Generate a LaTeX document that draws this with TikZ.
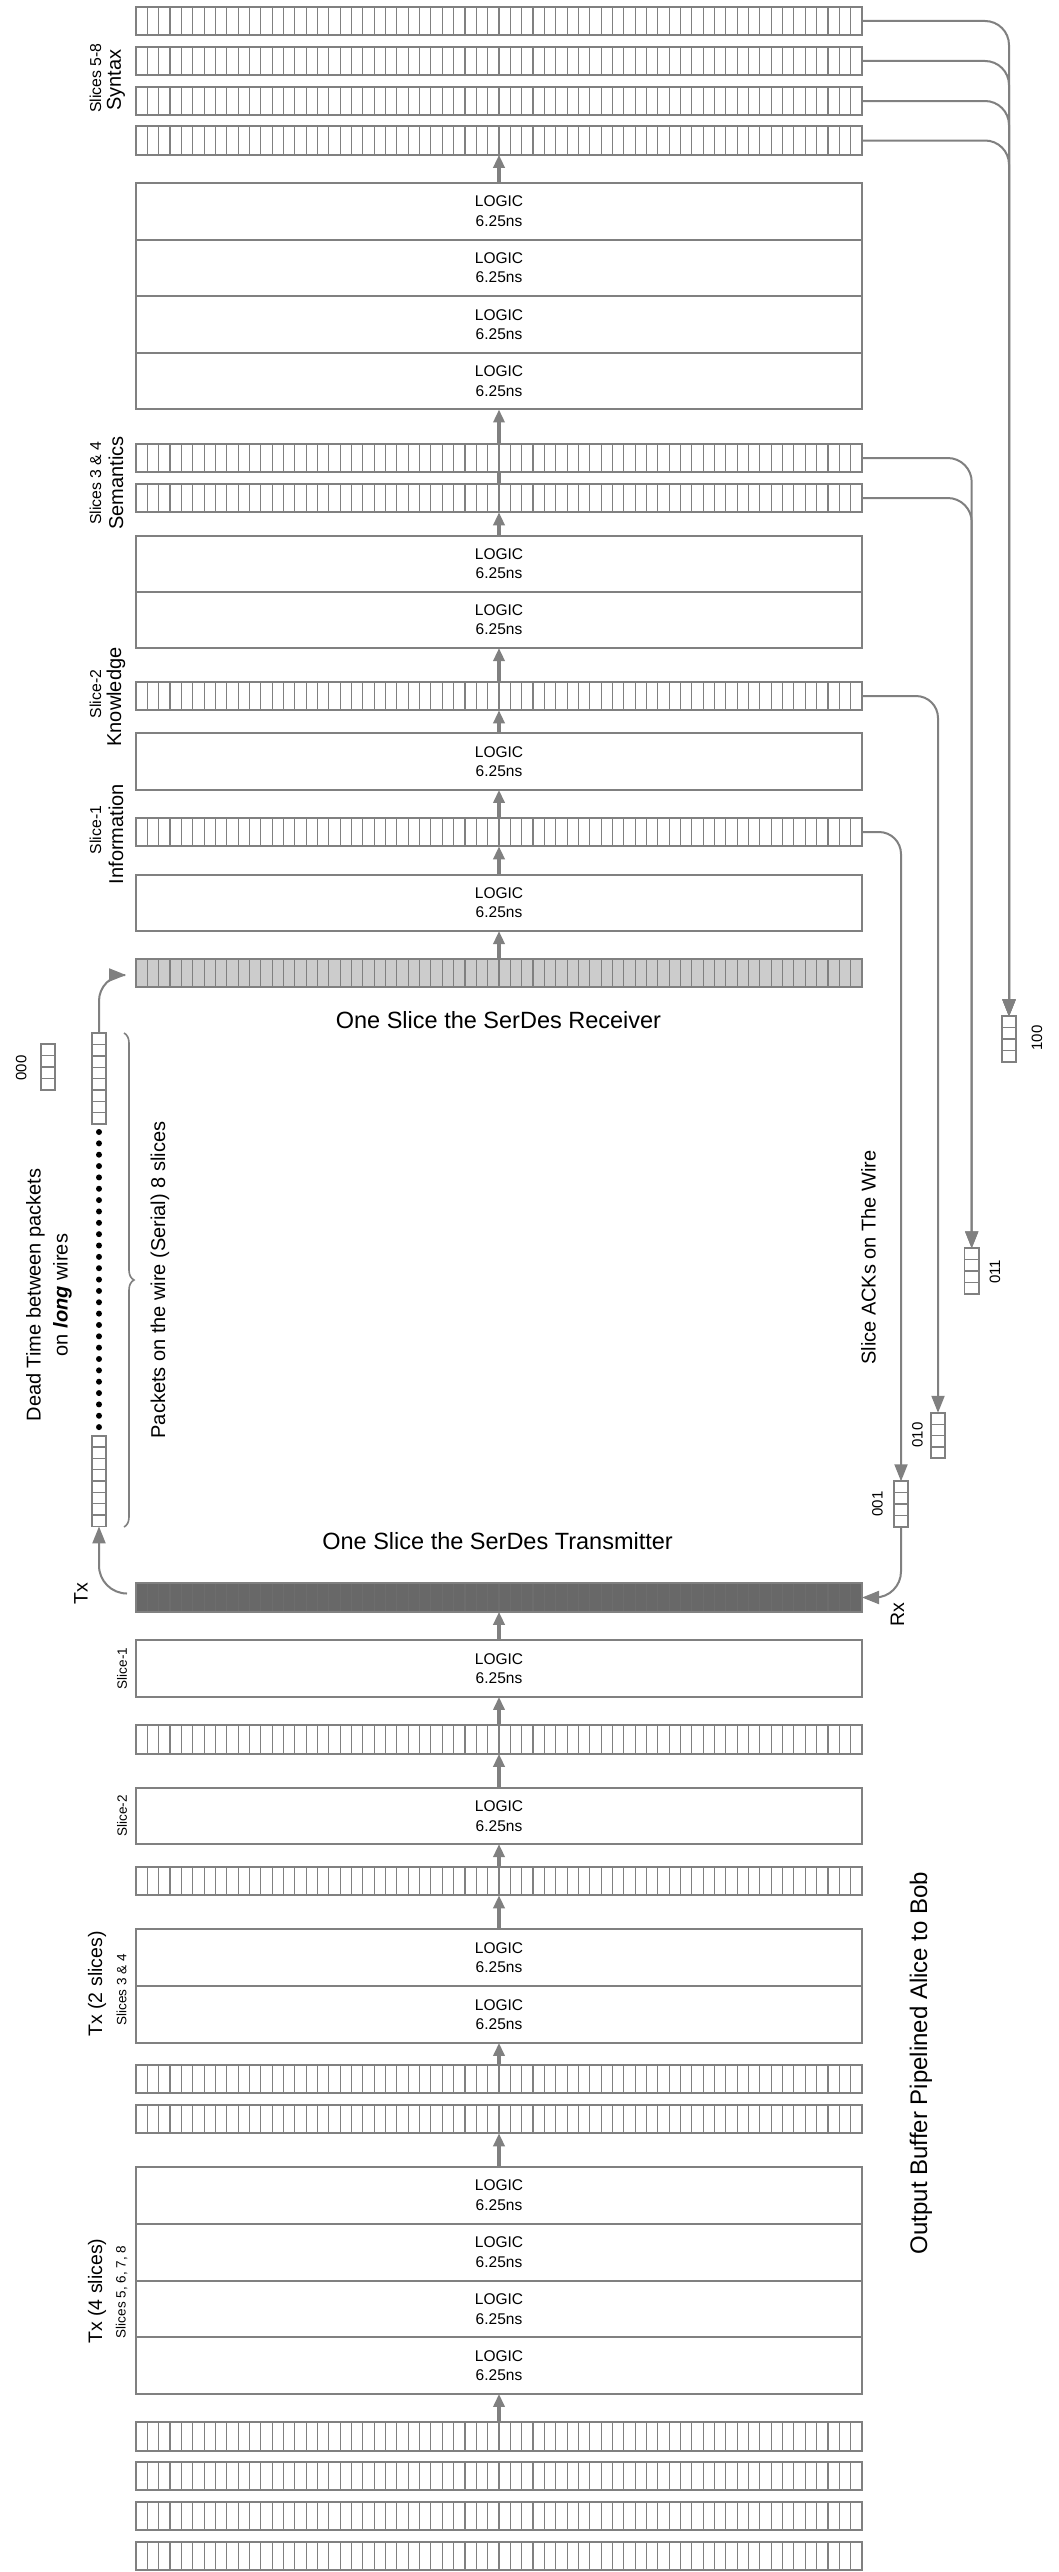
\documentclass[tikz,border=0pt]{standalone}
\usepackage{fontspec}
\setmainfont{Liberation Sans}
\usetikzlibrary{arrows.meta,calc,decorations.pathreplacing}
\definecolor{gc}{RGB}{128,128,128}
\definecolor{lgr}{RGB}{204,204,204}
\definecolor{dgr}{RGB}{104,104,104}
\begin{document}
\begin{tikzpicture}[x=1pt,y=-1pt,
  cellc/.store in=\cellc, cellc=gc,
  hreg/.style={draw=gc, line width=2pt, fill=white, minimum width=726pt, minimum height=28.5pt, inner sep=0pt, outer sep=0pt,
    path picture={\foreach \i in {1,...,63}{\draw[draw=\cellc, line width=1.1pt] ($(path picture bounding box.south west)!\i/64!(path picture bounding box.south east)$) -- ($(path picture bounding box.north west)!\i/64!(path picture bounding box.north east)$);}}},
  vreg/.style={draw=gc, line width=1.8pt, fill=white, minimum width=14.5pt, minimum height=11.35*#1, inner sep=0pt, outer sep=0pt,
    path picture={\pgfmathtruncatemacro\nmo{#1-1}\foreach \i in {1,...,\nmo}{\draw[gc, line width=1.3pt] ($(path picture bounding box.north west)!\i/#1!(path picture bounding box.south west)$) -- ($(path picture bounding box.north east)!\i/#1!(path picture bounding box.south east)$);}}},
  logic/.style={draw=gc, line width=2pt, fill=white, minimum width=726pt, minimum height=56.7pt, inner sep=0pt, outer sep=0pt, align=center, font=\fontsize{15.5}{19.3}\selectfont},
  parrow/.style={draw=gc, line width=4pt, -{Triangle[length=13pt,width=11pt]}},
  conn/.style={draw=gc, line width=2pt, -{Triangle[length=17pt,width=13pt]}},
  lab/.style={rotate=90, inner sep=0pt},
  fSmall/.style={font=\fontsize{15.8}{19}\selectfont},
  fBig/.style={font=\fontsize{20}{24}\selectfont},
  fTiny/.style={font=\fontsize{13.5}{16}\selectfont},
  fTitle/.style={font=\fontsize{23.5}{28}\selectfont},
  fAck/.style={font=\fontsize{15}{18}\selectfont},
  fTx/.style={font=\fontsize{19.5}{23}\selectfont},
  fOut/.style={font=\fontsize{24}{28}\selectfont}
]
\useasboundingbox (0,0) rectangle (1058,2572);
\fill[white] (0,0) rectangle (1058,2572);

% ---------- receiver side (top) ----------
\node[hreg] (b1) at (499,21) {};
\node[hreg] (b2) at (499,61) {};
\node[hreg] (b3) at (499,101) {};
\node[hreg] (b4) at (499,140.5) {};
\node[logic] (ta1) at (499,211.3) {LOGIC\\6.25ns};
\node[logic] (ta2) at (499,267.9) {LOGIC\\6.25ns};
\node[logic] (ta3) at (499,324.5) {LOGIC\\6.25ns};
\node[logic] (ta4) at (499,381.1) {LOGIC\\6.25ns};
\node[hreg] (sa) at (499,458) {};
\node[hreg] (sb) at (499,498) {};
\node[logic, minimum height=56pt] (tb1) at (499,564) {LOGIC\\6.25ns};
\node[logic, minimum height=56pt] (tb2) at (499,620) {LOGIC\\6.25ns};
\node[hreg] (kn) at (499,696) {};
\node[logic] (tc) at (499,761.5) {LOGIC\\6.25ns};
\node[hreg] (inf) at (499,832) {};
\node[logic, minimum height=56pt] (td) at (499,903) {LOGIC\\6.25ns};
\node[hreg, fill=lgr] (recv) at (499,973) {};

% ---------- transmitter side (bottom) ----------
\node[hreg, fill=dgr, cellc=gc!85!black] (txbar) at (499,1597.5) {};
\node[logic] (s1) at (499,1668.5) {LOGIC\\6.25ns};
\node[hreg] (p1) at (499,1739.5) {};
\node[logic, minimum height=56pt] (s2) at (499,1816) {LOGIC\\6.25ns};
\node[hreg] (p2) at (499,1881) {};
\node[logic] (u1) at (499,1957.5) {LOGIC\\6.25ns};
\node[logic] (u2) at (499,2014.5) {LOGIC\\6.25ns};
\node[hreg] (q1) at (499,2079) {};
\node[hreg] (q2) at (499,2119) {};
\node[logic] (v1) at (499,2195.2) {LOGIC\\6.25ns};
\node[logic] (v2) at (499,2252.2) {LOGIC\\6.25ns};
\node[logic] (v3) at (499,2309) {LOGIC\\6.25ns};
\node[logic] (v4) at (499,2365.5) {LOGIC\\6.25ns};
\node[hreg] (r1) at (499,2436.7) {};
\node[hreg] (r2) at (499,2476.2) {};
\node[hreg] (r3) at (499,2515.9) {};
\node[hreg] (r4) at (499,2555.9) {};

% ---------- pipeline arrows ----------
\draw[parrow] (ta1.north) -- (b4.south);
\draw[parrow] (sa.north) -- (ta4.south);
\draw[draw=gc, line width=4pt] (sb.north) -- (sa.south);
\draw[parrow] (tb1.north) -- (sb.south);
\draw[parrow] (kn.north) -- (tb2.south);
\draw[parrow] (tc.north) -- (kn.south);
\draw[parrow] (inf.north) -- (tc.south);
\draw[parrow] (td.north) -- (inf.south);
\draw[parrow] (recv.north) -- (td.south);
\draw[parrow] (s1.north) -- (txbar.south);
\draw[parrow] (p1.north) -- (s1.south);
\draw[parrow] (s2.north) -- (p1.south);
\draw[parrow] (p2.north) -- (s2.south);
\draw[parrow] (u1.north) -- (p2.south);
\draw[parrow] (q1.north) -- (u2.south);
\draw[parrow] (v1.north) -- (q2.south);
\draw[parrow] (r1.north) -- (v4.south);

% ---------- ACK registers ----------
\node[vreg=4] (a100) at (1009,1039) {};
\node[vreg=4] (a011) at (971.7,1271) {};
\node[vreg=4] (a010) at (938,1435.5) {};
\node[vreg=4] (a001) at (901,1504) {};
\node[vreg=4] (a000) at (48,1067) {};
\node[fAck, lab] (l100) at (1037,1038) {100};
\node[fAck, lab] (l011) at (995,1272) {011};
\node[fAck, lab] (l010) at (917.5,1435) {010};
\node[fAck, lab] (l001) at (877.5,1504) {001};
\node[fAck, lab] (l000) at (21.3,1068) {000};

\draw[conn, rounded corners=24pt] (b1.east) -- (b1.east -| a100) -- (a100.north);
\draw[conn, rounded corners=24pt] (b2.east) -- (b2.east -| a100) -- (a100.north);
\draw[conn, rounded corners=24pt] (b3.east) -- (b3.east -| a100) -- (a100.north);
\draw[conn, rounded corners=24pt] (b4.east) -- (b4.east -| a100) -- (a100.north);
\draw[conn, rounded corners=24pt] (sa.east) -- (sa.east -| a011) -- (a011.north);
\draw[conn, rounded corners=24pt] (sb.east) -- (sb.east -| a011) -- (a011.north);
\draw[conn, rounded corners=22pt] (kn.east) -- (kn.east -| a010) -- (a010.north);
\draw[conn, rounded corners=22pt] (inf.east) -- (inf.east -| a001) -- (a001.north);
\draw[conn, rounded corners=26pt] (a001.south) |- (txbar.east);

% ---------- packets on the wire ----------
\node[vreg=8] (pk1) at (99,1078.7) {};
\node[vreg=8] (pk2) at (99,1481) {};
\foreach \k in {0,...,26}{\fill[black] (99,1132+11.35*\k) circle (3pt);}
\draw[gc, line width=1.6pt, decorate, decoration={brace, amplitude=10pt}] (124,1033) -- (124,1527);
\coordinate (txout) at ($(txbar.west)+(-9,-4)$);
\coordinate (rxin) at ($(recv.west)+(-10,2)$);
\draw[conn, rounded corners=28pt] (txout) -| (pk2.south);
\draw[conn, rounded corners=26pt] (pk1.north) |- (rxin);

% ---------- labels ----------
\node[lab, fSmall] (lsyn1) at (95.5,78) {Slices 5-8};
\node[lab, fBig] (lsyn2) at (116,80) {Syntax};
\node[lab, fSmall] (lsem1) at (95.5,483) {Slices 3 \& 4};
\node[lab, fBig] (lsem2) at (116,483) {Semantics};
\node[lab, fSmall] (lkn1) at (95.5,694) {Slice-2};
\node[lab, fBig] (lkn2) at (116,697) {Knowledge};
\node[lab, fSmall] (lin1) at (95.5,830) {Slice-1};
\node[lab, fBig] (lin2) at (116,834) {Information};

\node[fTitle, inner sep=0pt] (trecv) at (498.5,1020.5) {One Slice the SerDes Receiver};
\node[fTitle, inner sep=0pt] (ttx) at (497.6,1541) {One Slice the SerDes Transmitter};
\node[lab, fBig] (ldead1) at (35.4,1295) {Dead Time between packets};
\node[lab, fBig] (ldead2) at (62.4,1295) {on \textbf{\textit{long}} wires};
\node[lab, fBig] (lpk) at (160,1280) {Packets on the wire (Serial) 8 slices};
\node[lab, fBig] (lack) at (868.5,1257.5) {Slice ACKs on The Wire};
\node[lab, fTx] (ltx) at (81,1594) {Tx};
\node[lab, fTx] (lrx) at (897.5,1615) {Rx};

\node[lab, fTiny] (ls1) at (122,1668.5) {Slice-1};
\node[lab, fTiny] (ls2) at (122,1816) {Slice-2};
\node[lab, fTx] (ltx2) at (97,1984) {Tx (2 slices)};
\node[lab, fTiny] (ltx2b) at (121.5,1990) {Slices 3 \& 4};
\node[lab, fTx] (ltx4) at (97,2291) {Tx (4 slices)};
\node[lab, fTiny] (ltx4b) at (121.5,2292) {Slices 5, 6, 7, 8};
\node[lab, fOut] (lout) at (921,2063) {Output Buffer Pipelined Alice to Bob};
\end{tikzpicture}
\end{document}
